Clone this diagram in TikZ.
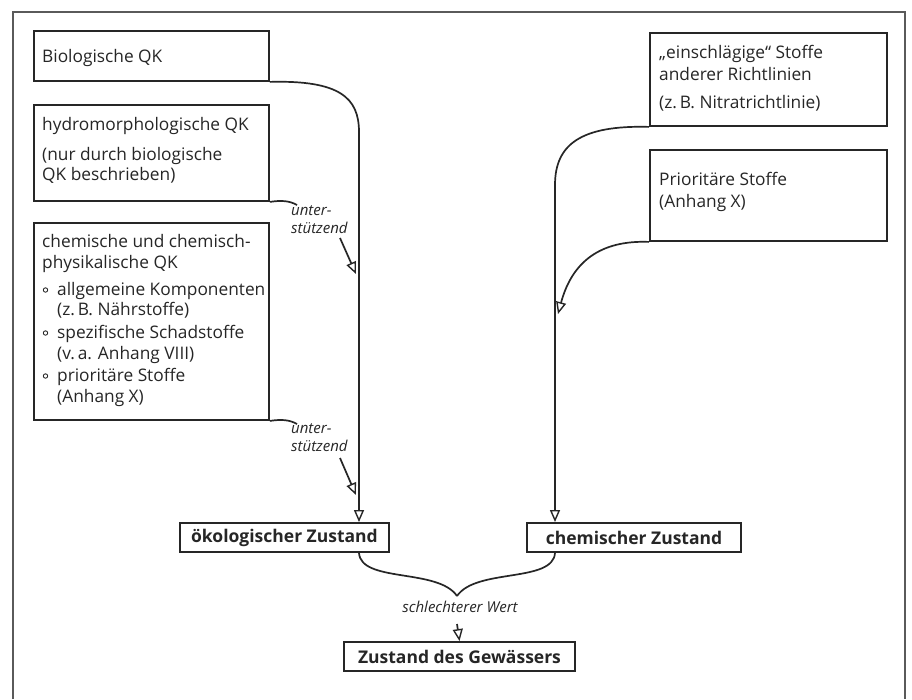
\documentclass[tikz,border=0pt]{standalone}
\usepackage{fontspec}
\setmainfont{Open Sans}
\usetikzlibrary{arrows.meta}
\definecolor{ink}{HTML}{262626}
\definecolor{framec}{HTML}{5A5A5A}
\begin{document}
\begin{tikzpicture}[x=1pt,y=-1pt,
  box/.style={draw=ink, line width=1.9pt, inner sep=0pt, anchor=north west},
  txt/.style={anchor=base west, inner sep=0pt, text=ink, font=\fontsize{17.3}{20}\selectfont},
  lbl/.style={anchor=base west, inner sep=0pt, text=ink, font=\fontsize{15}{18}\selectfont\itshape},
  state/.style={draw=ink, line width=1.9pt, inner sep=0pt, text=ink, font=\bfseries\fontsize{17.5}{20}\selectfont},
  conn/.style={draw=ink, line width=1.7pt},
  arr/.style={conn, -{Triangle[open, length=12pt, width=10pt, line width=1.4pt, fill=white]}},
  bul/.style={draw=ink, line width=0.9pt}
]
\useasboundingbox (0,0) rectangle (912,699);
\fill[white] (0,0) rectangle (912,699);
% frame
\draw[framec, line width=1.5pt] (13,699) -- (13,12) -- (905,12) -- (905,699);

% left boxes
\node[box, minimum width=235, minimum height=50] (bio) at (33,30) {};
\node[txt] (biot) at (42,62) {Biologische QK};

\node[box, minimum width=235, minimum height=96] (hyd) at (33,104) {};
\node[txt] (hydt1) at (42,130) {hydromorphologische QK};
\node[txt] (hydt2) at (42,160) {(nur durch biologische};
\node[txt] (hydt3) at (42,180) {QK beschrieben)};

\node[box, minimum width=235, minimum height=197] (che) at (33,222) {};
\node[txt] (chet1) at (42,247) {chemische und chemisch-};
\node[txt] (chet2) at (42,268) {physikalische QK};
\node[txt] (chet3) at (57,295) {allgemeine Komponenten};
\node[txt] (chet4) at (57,315) {(z.\,B. Nährstoffe)};
\node[txt] (chet5) at (57,338) {spezifische Schadstoffe};
\node[txt] (chet6) at (57,359) {(v.\,a. Anhang VIII)};
\node[txt] (chet7) at (57,381) {prioritäre Stoffe};
\node[txt] (chet8) at (57,402) {(Anhang X)};
\draw[bul] (45.5,290) circle (2.2);
\draw[bul] (45.5,333) circle (2.2);
\draw[bul] (45.5,376) circle (2.2);

% right boxes
\node[box, minimum width=237, minimum height=93] (ein) at (649,32) {};
\node[txt] (eint1) at (659,58) {„einschlägige“ Stoffe};
\node[txt] (eint2) at (659,80) {anderer Richtlinien};
\node[txt] (eint3) at (659,108) {(z.\,B. Nitratrichtlinie)};

\node[box, minimum width=237, minimum height=91] (pri) at (649,149) {};
\node[txt] (prit1) at (659,185) {Prioritäre Stoffe};
\node[txt] (prit2) at (659,207) {(Anhang X)};

% state boxes
\node[state, minimum width=209, minimum height=29] (oek) at (284.5,537.5) {ökologischer Zustand};
\node[state, minimum width=214, minimum height=29] (chz) at (634,537.5) {chemischer Zustand};
\node[state, minimum width=231, minimum height=29] (gew) at (459.5,656.5) {Zustand des Gewässers};

% labels
\node[lbl] (u1a) at (291,215) {unter-};
\node[lbl] (u1b) at (291,233) {stützend};
\node[lbl] (u2a) at (291,433) {unter-};
\node[lbl] (u2b) at (291,451) {stützend};
\node[anchor=base, inner sep=0pt, text=ink, font=\fontsize{15}{18}\selectfont\itshape] (sw) at (460,612) {schlechterer Wert};

% coordinates for line positions
\coordinate (vl) at (359,0);
\coordinate (vr) at (555,0);
\coordinate (s1) at (340,238);
\coordinate (s2) at (340,458);
\coordinate (bt) at (457,596);

% connectors
\draw[arr] (bio.south east) .. controls (340,80) and (359,98) .. (359,132) -- (oek.north -| vl);
\draw[conn] (hyd.south east) .. controls (282,200) and (290,201) .. (297,205);
\draw[arr] (s1) -- (356,274);
\draw[conn] (che.south east) .. controls (282,419) and (290,420) .. (297,424);
\draw[arr] (s2) -- (356,495);

\draw[arr] (ein.south west) .. controls (580,125) and (555,145) .. (555,185) -- (chz.north -| vr);
\draw[arr] (pri.south west) .. controls (600,240) and (572,262) .. (558,314);

\draw[conn] (oek.south -| vl) .. controls (361,583) and (438,568) .. (bt);
\draw[conn] (chz.south -| vr) .. controls (553,583) and (476,568) .. (bt);
\draw[arr] (457,624) -- (gew.north);
\end{tikzpicture}
\end{document}
